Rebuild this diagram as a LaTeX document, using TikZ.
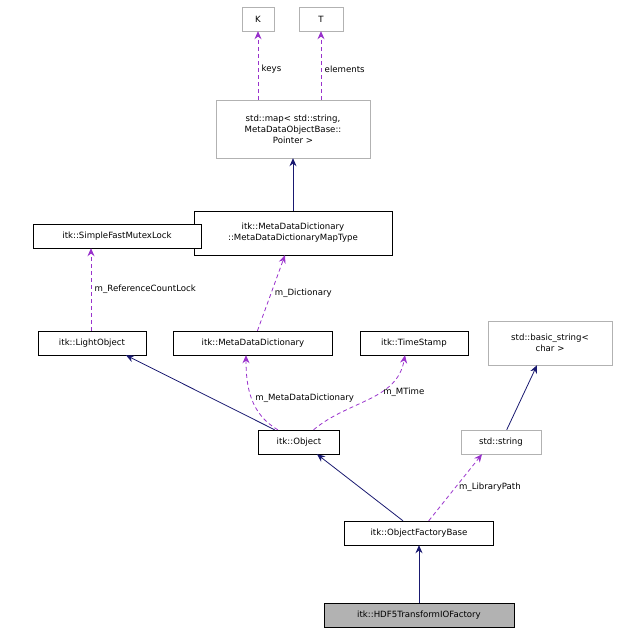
\documentclass[tikz,border=0pt]{standalone}
\usepackage{fontspec}
\setmainfont{DejaVu Sans}
\usetikzlibrary{arrows.meta}
\definecolor{orchid}{RGB}{153,50,204}
\definecolor{navyblue}{RGB}{25,25,112}
\begin{document}
\begin{tikzpicture}[x=1pt,y=-1pt,
  cls/.style={draw=black,fill=white,rectangle,inner sep=2pt,minimum height=24pt,font=\fontsize{8.6}{11}\selectfont,align=center},
  tpl/.style={cls,draw=black!30},
  use/.style={draw=orchid,line width=0.8pt,dash pattern=on 4pt off 3pt,-{Stealth[length=8pt,width=7pt]}},
  inh/.style={draw=navyblue,line width=0.8pt,-{Stealth[length=8pt,width=7pt]}},
  lbl/.style={font=\fontsize{8.6}{11}\selectfont}]
\useasboundingbox (0,0) rectangle (617,637);
\node[tpl,minimum width=32pt] (K) at (258,19) {K};
\node[tpl,minimum width=44pt] (T) at (321,19) {T};
\node[tpl,minimum width=154pt,minimum height=58pt] (map) at (293,129) {std::map\textless{} std::string,\\MetaDataObjectBase::\\Pointer \textgreater{}};
\node[cls,minimum width=198pt,minimum height=44pt] (maptype) at (293,233) {itk::MetaDataDictionary\\::MetaDataDictionaryMapType};
\node[cls,minimum width=168pt] (mutex) at (117,236) {itk::SimpleFastMutexLock};
\node[cls,minimum width=108pt] (light) at (92,343) {itk::LightObject};
\node[cls,minimum width=159pt] (dict) at (253,343) {itk::MetaDataDictionary};
\node[cls,minimum width=108pt] (stamp) at (414,343) {itk::TimeStamp};
\node[tpl,minimum width=124pt,minimum height=44pt] (bstr) at (550,343) {std::basic\_string\textless{}\\char \textgreater{}};
\node[tpl,minimum width=80pt] (str) at (501,442) {std::string};
\node[cls,minimum width=81pt] (obj) at (299,442) {itk::Object};
\node[cls,minimum width=149pt] (factory) at (419,533) {itk::ObjectFactoryBase};
\node[cls,fill=black!30,minimum width=190pt] (hdf) at (419,615) {itk::HDF5TransformIOFactory};
% usage
\draw[use] (map.north-|K) to node[lbl,right,pos=0.45]{keys} (K);
\draw[use] (map.north-|T) to node[lbl,right,pos=0.45]{elements} (T);
\draw[use] (dict) to node[lbl,right,pos=0.5]{m\_Dictionary} (maptype);
\draw[use] (light.north-|91,0) to node[lbl,right,pos=0.5]{m\_ReferenceCountLock} (mutex.south-|91,0);
\draw[use] (obj) to[out=150,in=-90] node[lbl,right,pos=0.5]{m\_MetaDataDictionary} (dict.south-|246,0);
\draw[use] (obj) to[out=40,in=-100] node[lbl,right,pos=0.6]{m\_MTime} (stamp.south-|405,0);
\draw[use] (factory) to node[lbl,right,pos=0.5]{m\_LibraryPath} (str.south-|482,0);
% inheritance
\draw[inh] (maptype) -- (map);
\draw[inh] (obj) -- (light.south-|126,0);
\draw[inh] (str) -- (bstr.south-|537,0);
\draw[inh] (factory.north-|403,0) -- (obj.south-|317,0);
\draw[inh] (hdf) -- (factory);
\end{tikzpicture}
\end{document}
